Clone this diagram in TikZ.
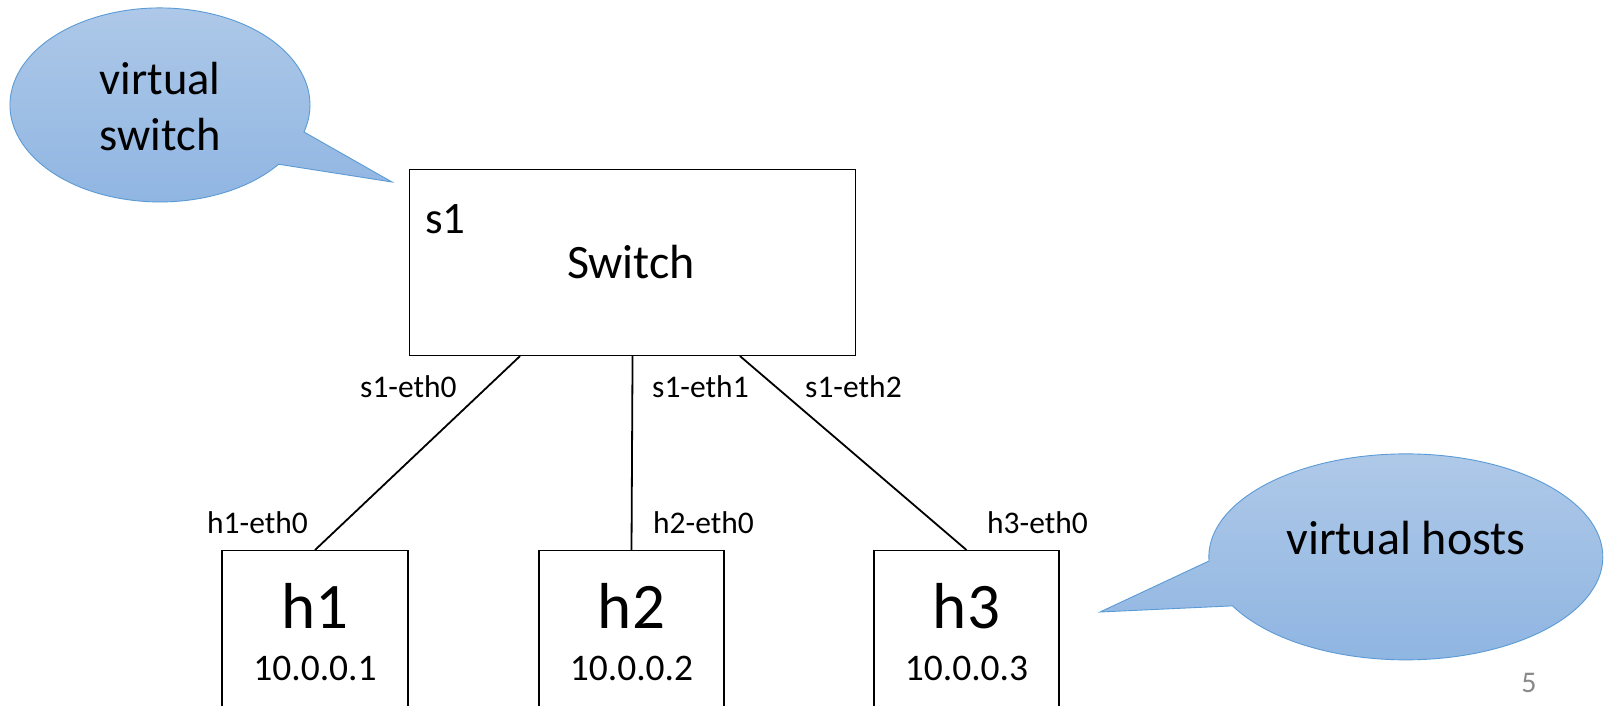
\documentclass[tikz,border=0pt]{standalone}
\usepackage{fontspec}
\setmainfont{Carlito}
\definecolor{bubbletop}{HTML}{AFC9E8}
\definecolor{bubblebot}{HTML}{8FB5E2}
\definecolor{bubbleedge}{HTML}{5B9BD5}
\definecolor{pagenum}{HTML}{8A8A8A}
\tikzset{
  bubble/.style={draw=bubbleedge, line width=0.9pt, top color=bubbletop, bottom color=bubblebot},
  devbox/.style={draw=black, line width=1.1pt, inner sep=0pt},
  link/.style={draw=black, line width=1.8pt},
  port/.style={font=\fontsize{31.5}{36}\selectfont, anchor=base west, inner sep=0pt},
  big/.style={font=\fontsize{46.5}{56}\selectfont, inner sep=0pt},
}
\begin{document}
\begin{tikzpicture}[x=1pt, y=-1pt]
  \clip (0,0) rectangle (1610,705);
  \fill[white] (0,0) rectangle (1610,705);

  % speech bubble: virtual switch
  \path[bubble] (304,132) arc[start angle=16.2, end angle=-322.3, x radius=150, y radius=97]
    -- (392,182) -- cycle;
  \node[big, align=center] (vs) at (160,107) {virtual\\switch};

  % speech bubble: virtual hosts
  \path[bubble] (1209,561) arc[start angle=177.7, end angle=511.6, x radius=197, y radius=103]
    -- (1100,612) -- cycle;
  \node[big, font=\fontsize{48}{56}\selectfont, anchor=base] (vh) at (1406,554) {virtual hosts};

  % switch
  \node[devbox, minimum width=446pt, minimum height=186pt, anchor=north west] (s1) at (409,169) {};
  \node[font=\fontsize{45}{52}\selectfont, anchor=base west, inner sep=0pt] (s1name) at (425,233) {s1};
  \node[big, font=\fontsize{48}{56}\selectfont, anchor=base] (s1label) at (631,278) {Switch};

  % hosts
  \node[devbox, minimum width=186pt, minimum height=170pt, anchor=north] (h1) at (315,550) {};
  \node[devbox, minimum width=185pt, minimum height=170pt, anchor=north] (h2) at (631.5,550) {};
  \node[devbox, minimum width=185pt, minimum height=170pt, anchor=north] (h3) at (966.5,550) {};

  \foreach \h/\ip in {h1/10.0.0.1, h2/10.0.0.2, h3/10.0.0.3}{
    \node[font=\fontsize{65}{72}\selectfont, anchor=base, inner sep=0pt] (\h name) at ([yshift=-78pt]\h.north) {\h};
    \node[font=\fontsize{37.5}{42}\selectfont, anchor=base, inner sep=0pt] (\h ip) at ([yshift=-130pt]\h.north) {\ip};
  }

  % links
  \draw[link] ([xshift=111pt]s1.south west) -- (h1.north);
  \draw[link] (s1.south) -- (h2.north);
  \draw[link] ([xshift=331pt]s1.south west) -- (h3.north);

  % interface names
  \node[port] (p10) at (360,397) {s1-eth0};
  \node[port] (p11) at (652,397) {s1-eth1};
  \node[port] (p12) at (805,397) {s1-eth2};
  \node[port] (p20) at (207,533) {h1-eth0};
  \node[port] (p21) at (653,533) {h2-eth0};
  \node[port] (p22) at (987,533) {h3-eth0};

  % page number
  \node[font=\fontsize{30}{36}\selectfont, text=pagenum, anchor=base, inner sep=0pt] (pg) at (1529,692) {5};
\end{tikzpicture}
\end{document}
